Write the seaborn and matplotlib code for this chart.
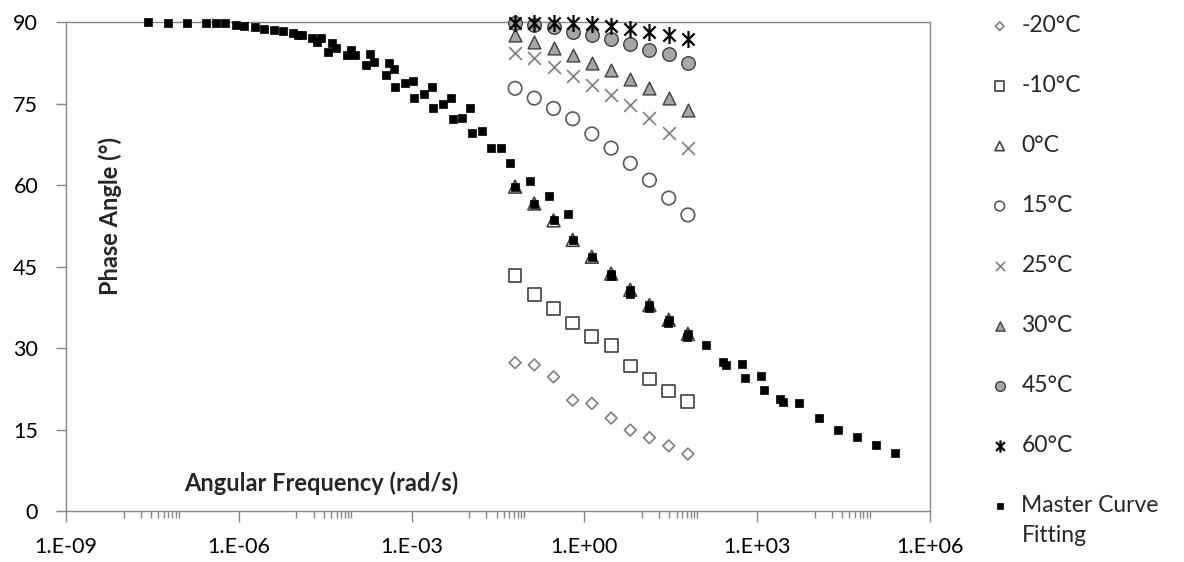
import math
import matplotlib
matplotlib.use("Agg")
import matplotlib.pyplot as plt
from matplotlib.path import Path
from matplotlib.ticker import FixedLocator, FuncFormatter, NullFormatter
import seaborn as sns

# test frequencies (rad/s), same for every temperature
freq_rad_s = [0.0628, 0.135, 0.292, 0.628, 1.35, 2.92, 6.28, 13.5, 29.2, 62.8]

phase_m20 = [27.3, 26.9, 24.7, 20.4, 19.8, 17.1, 14.9, 13.5, 12.0, 10.5]
phase_m10 = [43.3, 39.9, 37.3, 34.6, 32.1, 30.4, 26.7, 24.3, 22.1, 20.1]
phase_0 = [59.7, 56.6, 53.5, 49.9, 46.8, 43.7, 40.7, 37.9, 35.2, 32.6]
phase_15 = [77.8, 76.0, 74.1, 72.2, 69.4, 66.8, 64.0, 60.9, 57.6, 54.5]
phase_25 = [84.3, 83.3, 81.8, 80.1, 78.4, 76.6, 74.7, 72.3, 69.6, 66.8]
phase_30 = [87.6, 86.4, 85.2, 83.9, 82.5, 81.2, 79.5, 77.8, 76.0, 73.9]
phase_45 = [89.9, 89.5, 89.0, 88.2, 87.7, 86.8, 85.9, 84.9, 84.1, 82.4]
phase_60 = [89.9, 89.9, 89.9, 89.9, 89.6, 89.3, 88.8, 88.2, 87.7, 86.9]

# master curve at 0°C reference (reduced frequency, rad/s)
master_freq = [
    2.7e-8, 5.8e-8, 1.25e-7, 2.7e-7, 5.8e-7, 1.25e-6, 2.7e-6, 5.8e-6, 1.25e-5, 2.7e-5,
    4.1e-7, 8.8e-7, 1.9e-6, 4.1e-6, 8.8e-6, 1.9e-5, 4.1e-5, 8.8e-5, 1.9e-4, 4.1e-4,
    1.05e-5, 2.25e-5, 4.9e-5, 1.05e-4, 2.25e-4, 4.9e-4, 1.05e-3, 2.25e-3, 4.9e-3, 1.05e-2,
    3.55e-5, 7.6e-5, 1.65e-4, 3.55e-4, 7.6e-4, 1.65e-3, 3.55e-3, 7.6e-3, 1.65e-2, 3.55e-2,
    5.2e-4, 1.12e-3, 2.4e-3, 5.2e-3, 1.12e-2, 2.4e-2, 5.2e-2, 0.112, 0.24, 0.52,
    0.0628, 0.135, 0.292, 0.628, 1.35, 2.92, 6.28, 13.5, 29.2, 62.8,
    2.85, 6.1, 13.2, 28.5, 61.0, 132.0, 285.0, 610.0, 1320.0, 2850.0,
    251.0, 540.0, 1170.0, 2510.0, 5400.0, 11700.0, 25100.0, 54000.0, 117000.0, 251000.0,
]
master_phase = [
    90.0, 89.9, 89.9, 89.9, 89.8, 89.3, 88.8, 88.4, 87.7, 87.0,
    89.8, 89.5, 89.1, 88.5, 87.9, 87.0, 86.1, 84.9, 84.1, 82.4,
    87.6, 86.4, 85.2, 83.9, 82.7, 81.3, 79.1, 78.0, 76.1, 74.1,
    84.5, 84.0, 82.1, 80.2, 78.7, 76.8, 74.9, 72.3, 70.0, 66.9,
    78.0, 76.0, 74.1, 72.1, 69.5, 66.9, 64.0, 60.7, 58.0, 54.7,
    59.7, 56.6, 53.5, 49.9, 46.8, 43.7, 40.7, 37.9, 35.2, 32.6,
    43.3, 39.9, 37.3, 34.6, 32.1, 30.5, 26.8, 24.4, 22.3, 20.1,
    27.4, 27.0, 24.8, 20.6, 19.9, 17.1, 14.9, 13.6, 12.1, 10.7,
]

x_major = [1e-9, 1e-6, 1e-3, 1e0, 1e3, 1e6]
y_major = [0, 15, 30, 45, 60, 75, 90]

sns.set_style("ticks")
plt.rcParams["font.family"] = ["Lato", "DejaVu Sans"]

AXIS_GRAY = "#868686"
STAR = Path(
    [(0, -1), (0, 1), (-0.72, -0.72), (0.72, 0.72), (-0.72, 0.72), (0.72, -0.72)],
    [Path.MOVETO, Path.LINETO] * 3,
)

fig = plt.figure(figsize=(11.84, 5.62), dpi=100)
ax = fig.add_axes([0.0557, 0.0907, 0.7297, 0.8701])

series = [
    ("-20°C", phase_m20, dict(marker="D", s=36, facecolor="none", edgecolor="#7f7f7f", linewidth=1.2)),
    ("-10°C", phase_m10, dict(marker="s", s=85, facecolor="none", edgecolor="#404040", linewidth=1.2)),
    ("0°C", phase_0, dict(marker="^", s=85, facecolor="none", edgecolor="#404040", linewidth=1.2)),
    ("15°C", phase_15, dict(marker="o", s=95, facecolor="none", edgecolor="#595959", linewidth=1.2)),
    ("25°C", phase_25, dict(marker="x", s=85, color="#7f7f7f", linewidth=1.2)),
    ("30°C", phase_30, dict(marker="^", s=85, facecolor="#a6a6a6", edgecolor="#404040", linewidth=1.0)),
    ("45°C", phase_45, dict(marker="o", s=95, facecolor="#a6a6a6", edgecolor="#404040", linewidth=1.0)),
    ("60°C", phase_60, dict(marker=STAR, s=150, facecolor="black", edgecolor="black", linewidth=1.6)),
]
for label, phase, style in series:
    sns.scatterplot(x=freq_rad_s, y=phase, ax=ax, label=label, clip_on=False, zorder=3, **style)

sns.scatterplot(x=master_freq, y=master_phase, ax=ax, label="Master Curve",
                marker="s", s=36, color="black", edgecolor="black", linewidth=0.5,
                clip_on=False, zorder=4)

ax.set_xscale("log")
ax.set_xlim(1e-9, 1e6)
ax.set_ylim(0, 90)
ax.set_xticks(x_major)
minor = [k * 10.0 ** e for e in (-8, -5, -2, 1, 4) for k in range(1, 10)]
ax.xaxis.set_minor_locator(FixedLocator(minor))
ax.xaxis.set_minor_formatter(NullFormatter())
ax.xaxis.set_major_formatter(FuncFormatter(lambda v, p: f"1.E{round(math.log10(v)):+03d}"))
ax.set_yticks(y_major)

for side in ["left", "bottom", "top", "right"]:
    ax.spines[side].set_visible(True)
    ax.spines[side].set_color(AXIS_GRAY)
    ax.spines[side].set_linewidth(1.0)

ax.tick_params(axis="x", which="major", length=8, width=1, color=AXIS_GRAY, pad=11,
               labelsize=15.5, labelcolor="black")
ax.tick_params(axis="x", which="minor", length=5, width=1, color=AXIS_GRAY)
ax.tick_params(axis="y", which="major", length=7, width=1, color=AXIS_GRAY, pad=13,
               labelsize=15.5, labelcolor="black")
ax.set_xlabel("")
ax.set_ylabel("")

ax.text(0.051, 0.603, "Phase Angle (°)", rotation=90, transform=ax.transAxes,
        ha="center", va="center", fontsize=17, fontweight="bold")
ax.text(0.295, 0.057, "Angular Frequency (rad/s)", transform=ax.transAxes,
        ha="center", va="center", fontsize=17, fontweight="bold")

handles, labels = ax.get_legend_handles_labels()
if ax.legend_:
    ax.legend_.remove()
leg = fig.legend(handles, labels, loc="upper left", bbox_to_anchor=(979 / 1184, 1 - 6 / 562),
                 frameon=False, fontsize=16.5, labelspacing=1.70, handletextpad=0.45,
                 handlelength=1.0, markerscale=0.72, borderaxespad=0)

# second line of the last legend label, set under "Master Curve"
fig.canvas.draw()
last = leg.get_texts()[-1]
bb = last.get_window_extent().transformed(fig.transFigure.inverted())
fig.text(bb.x0, bb.y0 - 30 / 562, "Fitting", fontsize=16.5, ha="left", va="bottom")

fig.savefig("out.png", dpi=100)
